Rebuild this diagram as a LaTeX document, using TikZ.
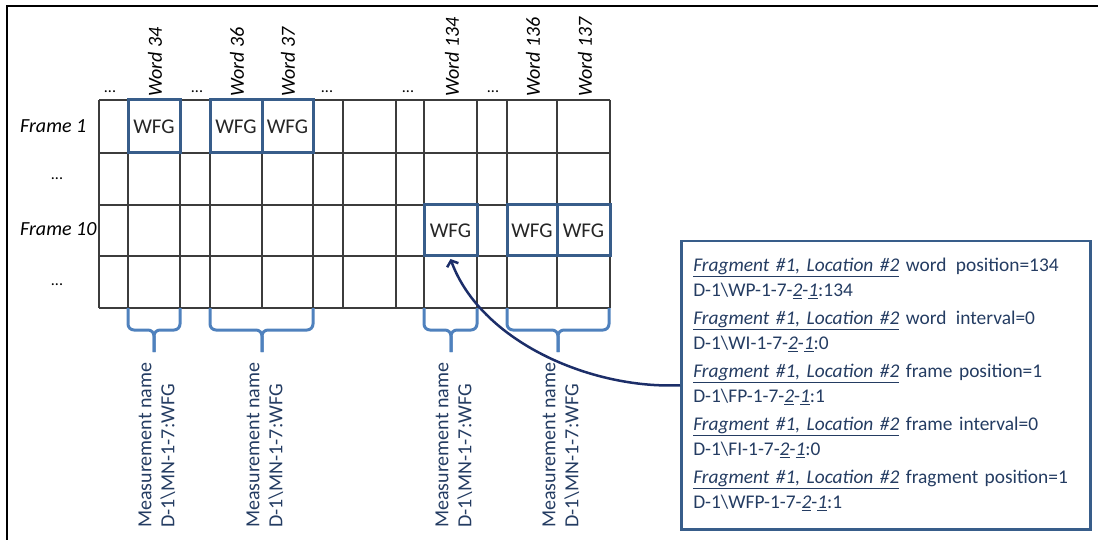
\documentclass[tikz,border=0pt]{standalone}
\usepackage{fontspec}
\setmainfont{Carlito}
\usetikzlibrary{arrows.meta}
\definecolor{gridc}{RGB}{60,60,60}
\definecolor{wfgblue}{RGB}{56,93,138}
\definecolor{braceblue}{RGB}{79,129,189}
\definecolor{arrownavy}{RGB}{28,46,105}
\definecolor{textnavy}{RGB}{36,60,98}
\newcommand\fragtag{\underline{\textit{Fragment \#1, Location \#2}}}
\newcommand\ul[1]{\underline{\textit{#1}}}
\begin{document}
\begin{tikzpicture}[x=1pt,y=-1pt,
  font=\fontsize{20}{24}\selectfont,
  gridline/.style={gridc,line width=2pt},
  wfgbox/.style={draw=wfgblue,line width=3pt,inner sep=0pt,text=black!85,font=\fontsize{21}{24}\selectfont},
  wordlabel/.style={rotate=90,anchor=west,inner sep=0pt,font=\fontsize{20}{24}\selectfont\itshape},
  dotslabel/.style={inner sep=0pt,font=\fontsize{16}{18}\selectfont},
  rowlabel/.style={anchor=west,inner sep=0pt,font=\fontsize{20}{24}\selectfont\itshape},
  measlabel/.style={rotate=90,anchor=west,align=left,inner sep=0pt,text=textnavy,font=\fontsize{20}{23}\selectfont},
  bracestyle/.style={braceblue,line width=3pt,rounded corners=6pt},
  infobox/.style={draw=wfgblue,line width=2.5pt,anchor=north west,text width=385pt,inner xsep=12pt,inner ysep=0pt,minimum height=288pt,align=left,text=textnavy,font=\fontsize{19.4}{25}\selectfont},
  linkarrow/.style={arrownavy,line width=2.5pt,-{Straight Barb[length=5pt,width=12pt]}}
]
\useasboundingbox (0,0) rectangle (1098,540);
% outer frame
\draw[line width=2pt] (1098,6) -- (7,6) -- (7,540);
% grid
\foreach \x in {99,128,180,210,262,313,343,396,424,477,507,557,610}
  \draw[gridline] (\x,100) -- (\x,308);
\foreach \y in {100,153,205,256,308}
  \draw[gridline] (99,\y) -- (610,\y);
% WFG boxes
\node[wfgbox,minimum width=52pt,minimum height=53pt] (w34) at (154,126.5) {WFG};
\node[wfgbox,minimum width=52pt,minimum height=53pt] (w36) at (236,126.5) {WFG};
\node[wfgbox,minimum width=51pt,minimum height=53pt] (w37) at (287.5,126.5) {WFG};
\node[wfgbox,minimum width=53pt,minimum height=51pt] (w134) at (450.5,230.5) {WFG};
\node[wfgbox,minimum width=50pt,minimum height=51pt] (w136) at (532,230.5) {WFG};
\node[wfgbox,minimum width=53pt,minimum height=51pt] (w137) at (583.5,230.5) {WFG};
% word labels
\node[wordlabel] (l34) at (155,97) {Word 34};
\node[wordlabel] (l36) at (237,97) {Word 36};
\node[wordlabel] (l37) at (288,97) {Word 37};
\node[wordlabel] (l134) at (452,97) {Word 134};
\node[wordlabel] (l136) at (533,97) {Word 136};
\node[wordlabel] (l137) at (585,97) {Word 137};
% dots above
\node[dotslabel] (d1) at (110,92) {...};
\node[dotslabel] (d2) at (197,92) {...};
\node[dotslabel] (d3) at (327,92) {...};
\node[dotslabel] (d4) at (408,92) {...};
\node[dotslabel] (d5) at (493,92) {...};
% row labels
\node[rowlabel] (f1) at (20,126) {Frame 1};
\node[dotslabel] (r2) at (57,179) {...};
\node[rowlabel] (f10) at (20,229) {Frame 10};
\node[dotslabel] (r4) at (57,285) {...};
% braces
\draw[bracestyle] (128,308) -- (128,330) -- (154,330) -- (154,352);
\draw[bracestyle] (180,308) -- (180,330) -- (154,330) -- (154,352);
\draw[bracestyle] (210,308) -- (210,330) -- (262,330) -- (262,352);
\draw[bracestyle] (313,308) -- (313,330) -- (262,330) -- (262,352);
\draw[bracestyle] (424,308) -- (424,330) -- (451,330) -- (451,352);
\draw[bracestyle] (477,308) -- (477,330) -- (451,330) -- (451,352);
\draw[bracestyle] (507,308) -- (507,330) -- (558,330) -- (558,352);
\draw[bracestyle] (609,308) -- (609,330) -- (558,330) -- (558,352);
% measurement labels
\node[measlabel] (m1) at (157,528) {Measurement name\\D-1\textbackslash MN-1-7:WFG};
\node[measlabel] (m2) at (265,528) {Measurement name\\D-1\textbackslash MN-1-7:WFG};
\node[measlabel] (m3) at (454,528) {Measurement name\\D-1\textbackslash MN-1-7:WFG};
\node[measlabel] (m4) at (561,528) {Measurement name\\D-1\textbackslash MN-1-7:WFG};
% info box
\node[infobox] (info) at (680,240) {\strut\mbox{\fragtag{} word\hspace{3pt} position=134}\\
\mbox{D-1\textbackslash WP-1-7-\ul{2}-\ul{1}:134}\\[3pt]
\mbox{\fragtag{} word\hspace{3pt} interval=0}\\
\mbox{D-1\textbackslash WI-1-7-\ul{2}-\ul{1}:0}\\[3pt]
\mbox{\fragtag{} frame position=1}\\
\mbox{D-1\textbackslash FP-1-7-\ul{2}-\ul{1}:1}\\[3pt]
\mbox{\fragtag{} frame interval=0}\\
\mbox{D-1\textbackslash FI-1-7-\ul{2}-\ul{1}:0}\\[3pt]
\mbox{\fragtag{} fragment position=1}\\
\mbox{D-1\textbackslash WFP-1-7-\ul{2}-\ul{1}:1}\strut};
% arrow
\draw[linkarrow] (info.west) .. controls +(-90,4) and +(30,82) .. ([yshift=-1.5pt]w134.south);
\end{tikzpicture}
\end{document}
